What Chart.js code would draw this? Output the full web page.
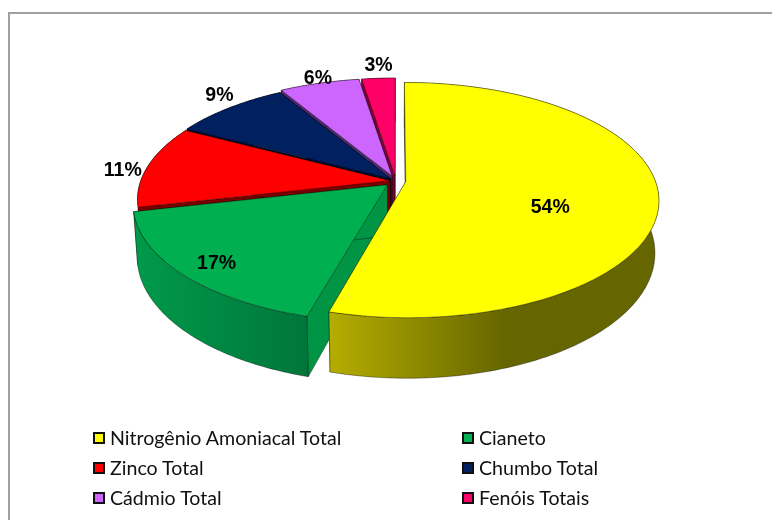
<!DOCTYPE html>
<html>
<head>
<meta charset="utf-8">
<script src="https://cdn.jsdelivr.net/npm/chart.js@4"></script>
<style>
  html, body { margin: 0; padding: 0; background: #fff; }
  #quadro { position: relative; width: 772px; height: 520px; overflow: hidden; }
  #quadro::before { content: ''; position: absolute; left: 8px; top: 12px; right: -4px; bottom: -4px; border: 2px solid #a0a0a0; }
  canvas { position: absolute; left: 0; top: 0; }
  .item { position: absolute; font: 19.6px Lato, sans-serif; color: #111; line-height: 20px; white-space: nowrap; }
  .item i { position: absolute; left: -17px; top: 4px; width: 8px; height: 8px; border: 2px solid #111; }
</style>
</head>
<body>
<div id="quadro"><canvas id="grafico" width="772" height="520"></canvas></div>
<script>
const categorias = ['Nitrogênio Amoniacal Total', 'Cianeto', 'Zinco Total', 'Chumbo Total', 'Cádmio Total', 'Fenóis Totais'];
const valores = [54.3, 17.1, 11.4, 8.7, 6.0, 2.5];
const explosao = [10, 12, 6, 7, 12, 12];
const cores = ['#FFFF00', '#00B050', '#FF0000', '#002060', '#CC66FF', '#FF0066'];
const coresParede = ['#6b6b00', '#009445', '#7a0000', '#000f33', '#4f2a6b', '#80002f'];
const coresLadoInicio = ['#b5ad00', '#009a4a', '#7a0000', '#000f33', '#4f2a6b', '#80002f'];
const coresLadoFim = ['#666600', '#00763a', '#7a0000', '#000f33', '#4f2a6b', '#80002f'];
const rotuloRaio = [0.597, 0.865, 1.094, 1.147, 1.068, 1.169];
const rotuloGiro = [13.06, -1.2, -2.3, 3.2, 0.74, 0.6];

// perspectiva da pizza
const centroX = 396, centroY = 181, raioX = 249.5, raioY = 114.5, fuga = 0.157, altura = 51, encolhe = 0.985;

function projetar(x, y, fundo) {
  const w = 1 - fuga * y;
  let sx = raioX * x / w;
  let sy = raioY * y / w;
  if (fundo) {
    sx *= encolhe;
    sy += altura / w;
  }
  return [centroX + sx, centroY + sy];
}

function pontosDoArco(ini, fim, ox, oy, fundo) {
  const pts = [];
  const n = Math.max(2, Math.ceil((fim - ini) / 0.015));
  for (let i = 0; i <= n; i++) {
    const a = ini + (fim - ini) * i / n;
    pts.push(projetar(ox + Math.cos(a), oy + Math.sin(a), fundo));
  }
  return pts;
}

function caminho(ctx, pts) {
  ctx.beginPath();
  pts.forEach((p, i) => i ? ctx.lineTo(p[0], p[1]) : ctx.moveTo(p[0], p[1]));
  ctx.closePath();
}

function pintar(ctx, pts, preenchimento, linha) {
  caminho(ctx, pts);
  ctx.fillStyle = preenchimento;
  ctx.fill();
  ctx.strokeStyle = linha;
  ctx.lineWidth = 0.8;
  ctx.stroke();
}

function desenharFatia(ctx, arco, i) {
  const meio = (arco.startAngle + arco.endAngle) / 2;
  const desloc = arco.options.offset / arco.outerRadius;
  const ox = Math.cos(meio) * desloc, oy = Math.sin(meio) * desloc;
  const ini = arco.startAngle, fim = arco.endAngle;

  const centroTopo = projetar(ox, oy, false), centroFundo = projetar(ox, oy, true);
  const topo = pontosDoArco(ini, fim, ox, oy, false);
  const fundo = pontosDoArco(ini, fim, ox, oy, true);
  const linha = 'rgba(0,0,0,0.45)';

  // paredes internas
  pintar(ctx, [centroTopo, topo[0], fundo[0], centroFundo], coresParede[i], linha);
  pintar(ctx, [centroTopo, topo[topo.length - 1], fundo[fundo.length - 1], centroFundo], coresParede[i], linha);

  // lado externo com degrade
  const xs = topo.map(p => p[0]);
  const xMin = Math.min(...xs), xMax = Math.max(...xs);
  const grad = ctx.createLinearGradient(xMin, 0, xMax, 0);
  grad.addColorStop(0, coresLadoInicio[i]);
  grad.addColorStop(i === 0 ? 0.53 : 1, coresLadoFim[i]);
  grad.addColorStop(1, coresLadoFim[i]);
  pintar(ctx, topo.concat(fundo.slice().reverse()), grad, linha);

  // tampa
  pintar(ctx, [centroTopo].concat(topo), cores[i], linha);
}

function desenharRotulo(ctx, arco, i) {
  const meio = (arco.startAngle + arco.endAngle) / 2;
  const desloc = arco.options.offset / arco.outerRadius;
  const a = meio + rotuloGiro[i] * Math.PI / 180;
  const p = projetar(Math.cos(meio) * desloc + rotuloRaio[i] * Math.cos(a),
                     Math.sin(meio) * desloc + rotuloRaio[i] * Math.sin(a), false);
  ctx.font = 'bold 19.5px "Liberation Sans", Arial, sans-serif';
  ctx.fillStyle = '#000';
  ctx.textAlign = 'center';
  ctx.textBaseline = 'middle';
  ctx.fillText(Math.round(valores[i]) + '%', p[0], p[1] + 1);
}

const pizza3d = {
  id: 'pizza3d',
  beforeDatasetsDraw(chart) {
    const ctx = chart.ctx;
    const arcos = chart.getDatasetMeta(0).data;
    ctx.save();
    // de tras para frente: a primeira fatia cobre a parede da segunda
    for (let i = arcos.length - 1; i >= 0; i--) desenharFatia(ctx, arcos[i], i);
    arcos.forEach((arco, i) => desenharRotulo(ctx, arco, i));
    ctx.restore();
    return false;
  }
};

new Chart(document.getElementById('grafico'), {
  type: 'pie',
  data: {
    labels: categorias,
    datasets: [{ data: valores, backgroundColor: cores, offset: explosao }]
  },
  options: {
    responsive: false,
    animation: false,
    events: [],
    plugins: { legend: { display: false }, tooltip: { enabled: false } }
  },
  plugins: [pizza3d]
});

// legenda em duas colunas
const quadro = document.getElementById('quadro');
categorias.forEach((nome, i) => {
  const item = document.createElement('div');
  item.className = 'item';
  item.style.left = (i % 2 ? 479 : 110) + 'px';
  item.style.top = (428 + 30 * Math.floor(i / 2)) + 'px';
  item.textContent = nome;
  const q = document.createElement('i');
  q.style.background = cores[i];
  item.appendChild(q);
  quadro.appendChild(item);
});
</script>
</body>
</html>
